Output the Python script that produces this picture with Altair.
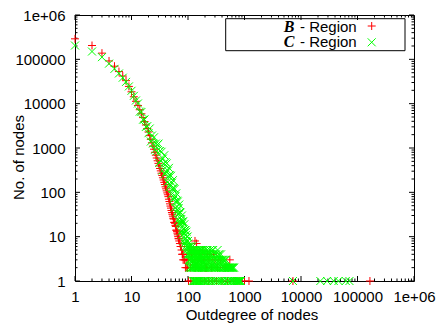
import altair as alt
import pandas as pd

# ---------------- data ----------------
b_deg = [1, 2, 3, 4, 5, 6, 7, 8, 9, 10,
         11, 12, 13, 14, 15, 16, 17, 18, 19, 20,
         21, 22, 23, 24, 25, 26, 27, 28, 29, 30,
         31, 32, 33, 34, 35, 36, 37, 38, 39, 40,
         41, 42, 43, 44, 45, 46, 47, 48, 49, 50,
         51, 52, 53, 54, 55, 56, 57, 58, 59, 60,
         61, 62, 63, 64, 65, 66, 67, 68, 69, 70,
         72, 74, 75, 77, 79, 80, 82, 84, 86, 88, 90, 93, 95, 98]
b_cnt = [290000, 205000, 138000, 92000, 70000, 53000, 42000, 33000, 24500, 18500,
         14300, 11300, 9100, 7300, 5900, 4850, 3950, 3300, 2750, 2300,
         1900, 1570, 1310, 1100, 940, 800, 690, 595, 515, 450,
         395, 345, 305, 270, 240, 213, 190, 168, 150, 133,
         120, 108, 97, 88, 80, 70, 62, 55, 49, 44,
         39, 35, 32, 29, 26, 25, 21, 21, 20, 18,
         17, 14, 14, 13, 12, 11, 10, 9, 9, 8,
         7, 6, 6, 5, 4, 4, 3, 4, 3, 3, 2, 3, 2, 2]
b_tail_deg = [101, 105, 110, 115, 120, 128, 133, 135, 142, 150,
              160, 170, 175, 180, 190, 200, 205, 210, 215, 220,
              235, 245, 260, 280, 300, 330, 380, 450, 550]
b_tail_cnt = [3, 5, 2, 4, 3, 5, 8, 2, 7, 3,
              4, 2, 3, 5, 3, 2, 2, 2, 2, 4,
              3, 4, 2, 4, 3, 2, 3, 2, 3]
b_one_deg = [102, 112, 125, 140, 165, 195, 230, 270, 320, 400,
             500, 650, 800, 1000, 1200, 7200, 166000]

c_deg = list(range(1, 101))
c_cnt = [205000, 150000, 112000, 80000, 61000, 48000, 38500, 31000, 24500, 19500,
         15000, 11800, 10100, 6600, 6500, 4350, 4400, 3000, 3100, 2160,
         2750, 1400, 1910, 1260, 1740, 910, 1260, 850, 1190, 1257,
         462, 852, 525, 821, 310, 578, 440, 686, 256, 480,
         292, 450, 168, 308, 231, 356, 131, 244, 150, 236,
         90, 165, 123, 188, 68, 125, 77, 119, 45, 81,
         62, 95, 35, 65, 40, 62, 24, 44, 33, 53,
         20, 36, 22, 35, 13, 25, 19, 30, 11, 22,
         14, 22, 8, 15, 12, 19, 7, 14, 9, 14,
         6, 11, 8, 13, 5, 10, 6, 10, 4, 8]
c_tail_deg = [101, 102, 103, 104, 105, 106, 107, 108, 109, 110,
              111, 112, 113, 114, 115, 116, 117, 118, 119, 120,
              121, 122, 123, 124, 125, 127, 128, 130, 132, 133,
              135, 137, 139, 141, 143, 145, 147, 149, 151, 153,
              155, 157, 160, 162, 165, 168, 170, 173, 176, 179,
              182, 185, 188, 191, 195, 198, 202, 206, 210, 214,
              218, 222, 227, 232, 237, 242, 247, 252, 258, 264,
              270, 276, 282, 289, 296, 303, 310, 318, 326, 334,
              342, 350, 360, 370, 380, 390, 400, 412, 425, 438,
              450, 465, 480, 495, 510, 525, 545, 560, 580, 600,
              620, 640, 665, 690, 715, 740, 770, 800, 830, 860,
              7200, 22000, 29000, 38000, 46000, 62000, 72000]
c_tail_cnt = [7, 4, 6, 3, 6, 2, 5, 4, 3, 5,
              3, 6, 2, 4, 2, 5, 3, 4, 2, 6,
              1, 3, 5, 2, 4, 1, 3, 5, 2, 1,
              4, 3, 1, 5, 2, 1, 4, 3, 1, 2,
              5, 1, 3, 4, 1, 2, 5, 1, 3, 2,
              1, 4, 3, 1, 2, 5, 1, 3, 4, 1,
              2, 5, 1, 3, 2, 1, 4, 3, 1, 2,
              5, 1, 3, 2, 1, 4, 2, 1, 3, 5,
              1, 2, 4, 1, 3, 2, 1, 3, 2, 1,
              2, 3, 1, 2, 1, 2, 2, 1, 2, 1,
              2, 1, 1, 1, 1, 1, 1, 1, 1, 1,
              1, 1, 1, 1, 1, 1, 1]
c_tail2_deg = [126, 129, 131, 134, 136, 138, 140, 142, 144, 146,
               148, 150, 152, 154, 156, 158, 161, 164, 166, 169,
               172, 175, 178, 181, 184, 187, 190, 193, 197, 200,
               204, 208, 212, 216, 220, 225, 230, 235, 240, 245,
               250, 255, 261, 267, 273, 279, 286, 292, 300, 306,
               314, 322, 330, 338, 346, 355, 365, 375, 385, 395,
               405, 418, 430, 445, 458, 472, 488, 502, 518, 535,
               552, 570, 590, 610, 630, 655]
c_tail2_cnt = [3, 4, 2, 5, 2, 4, 3, 2, 4, 5,
               2, 3, 4, 2, 3, 5, 2, 3, 4, 3,
               2, 4, 5, 3, 2, 5, 2, 4, 3, 2,
               4, 2, 3, 5, 3, 4, 2, 4, 3, 5,
               2, 4, 3, 2, 4, 5, 2, 3, 2, 3,
               4, 2, 3, 2, 4, 3, 2, 3, 4, 2,
               3, 2, 3, 2, 3, 2, 2, 2, 2, 2,
               2, 2, 2, 2, 2, 2]

major_ticks = [1, 10, 100, 1000, 10000, 100000, 1000000]
minor_ticks = [m * 10 ** e for e in range(6) for m in range(2, 10)]

# ---------------- build tables ----------------
df_b = pd.DataFrame({
    "deg": b_deg + b_tail_deg + b_one_deg,
    "cnt": b_cnt + b_tail_cnt + [1] * len(b_one_deg),
})
df_c = pd.DataFrame({"deg": c_deg + c_tail_deg + c_tail2_deg,
                     "cnt": c_cnt + c_tail_cnt + c_tail2_cnt})
df_major = pd.DataFrame({"deg": major_ticks, "cnt": major_ticks})
df_minor = pd.DataFrame({"deg": minor_ticks, "cnt": minor_ticks})
one = pd.DataFrame({"a": [0]})

W, H = 339, 266
FONT = "Liberation Sans"
PLUS = "M-1,0L1,0M0,-1L0,1"
CROSS = "M-1,-1L1,1M-1,1L1,-1"

xs = alt.Scale(type="log", domain=[1, 1000000], nice=False)
ys = alt.Scale(type="log", domain=[1, 1000000], nice=False)
lab = "datum.value >= 1000000 ? '1e+06' : format(datum.value, 'd')"

xaxis = alt.Axis(values=major_ticks, labelExpr=lab, ticks=False, domain=False, grid=False,
                 labelFont=FONT, labelFontSize=15, labelColor="black", labelPadding=8,
                 labelFlush=False, labelOverlap=False, labelBound=False,
                 title="Outdegree of nodes", titleFont=FONT, titleFontSize=15,
                 titleFontWeight="normal", titleColor="black",
                 titleX=176.5, titleY=38, titleAlign="center", titleBaseline="alphabetic")
yaxis = alt.Axis(values=major_ticks, labelExpr=lab, ticks=False, domain=False, grid=False,
                 labelFont=FONT, labelFontSize=15, labelColor="black", labelPadding=10,
                 labelFlush=False, labelOverlap=False, labelBound=False,
                 title="No. of nodes", titleFont=FONT, titleFontSize=15,
                 titleFontWeight="normal", titleColor="black", titleAngle=270,
                 titleX=-57, titleY=142, titleAlign="center", titleBaseline="middle")

X = alt.X("deg:Q", scale=xs, axis=xaxis)
Y = alt.Y("cnt:Q", scale=ys, axis=yaxis)


def xticks(df, y1, y2):
    return alt.Chart(df).mark_rule(color="black", strokeWidth=1).encode(
        x=X, y=alt.value(y1), y2=alt.value(y2))


def yticks(df, x1, x2):
    return alt.Chart(df).mark_rule(color="black", strokeWidth=1).encode(
        y=Y, x=alt.value(x1), x2=alt.value(x2))


ticks = [
    xticks(df_major, H, H - 5), xticks(df_minor, H, H - 2.5),
    xticks(df_major, 0, 5), xticks(df_minor, 0, 2.5),
    yticks(df_major, 0, 5), yticks(df_minor, 0, 2.5),
    yticks(df_major, W, W - 5), yticks(df_minor, W, W - 2.5),
]

red = alt.Chart(df_b).mark_point(shape=PLUS, size=64, filled=False, color="#ff0000",
                                 strokeWidth=1, opacity=1).encode(x=X, y=Y)
green = alt.Chart(df_c).mark_point(shape=CROSS, size=64, filled=False, color="#00ff00",
                                   strokeWidth=1, opacity=1).encode(x=X, y=Y)

# ---------------- legend (gnuplot style key box) ----------------
box = alt.Chart(one).mark_rect(fillOpacity=0, stroke="black", strokeWidth=1).encode(
    x=alt.value(150.7), x2=alt.value(330), y=alt.value(3.7), y2=alt.value(35.7))
lb1 = alt.Chart(one).mark_text(text="B", font="Liberation Serif", fontSize=16,
                               fontWeight="bold", fontStyle="italic", align="right",
                               baseline="alphabetic", color="black").encode(
    x=alt.value(219.5), y=alt.value(16.8))
lt1 = alt.Chart(one).mark_text(text="- Region", font=FONT, fontSize=15, align="right",
                               baseline="alphabetic", color="black").encode(
    x=alt.value(281.7), y=alt.value(16.8))
lb2 = alt.Chart(one).mark_text(text="C", font="Liberation Serif", fontSize=16,
                               fontWeight="bold", fontStyle="italic", align="right",
                               baseline="alphabetic", color="black").encode(
    x=alt.value(219.5), y=alt.value(32.3))
lt2 = alt.Chart(one).mark_text(text="- Region", font=FONT, fontSize=15, align="right",
                               baseline="alphabetic", color="black").encode(
    x=alt.value(281.7), y=alt.value(32.3))
ls1 = alt.Chart(one).mark_point(shape=PLUS, size=64, filled=False, color="#ff0000",
                                strokeWidth=1, opacity=1).encode(
    x=alt.value(296.7), y=alt.value(11))
ls2 = alt.Chart(one).mark_point(shape=CROSS, size=64, filled=False, color="#00ff00",
                                strokeWidth=1, opacity=1).encode(
    x=alt.value(296.7), y=alt.value(27.3))

chart = alt.layer(*ticks, red, green, box, lb1, lt1, lb2, lt2, ls1, ls2).properties(
    width=W, height=H,
    autosize=alt.AutoSizeParams(type="none"),
    padding={"left": 75, "top": 15, "right": 27, "bottom": 46},
    background="white",
).configure_view(stroke="black", strokeWidth=1)

chart.save("out.html", embed_options={"renderer": "svg", "actions": False})
